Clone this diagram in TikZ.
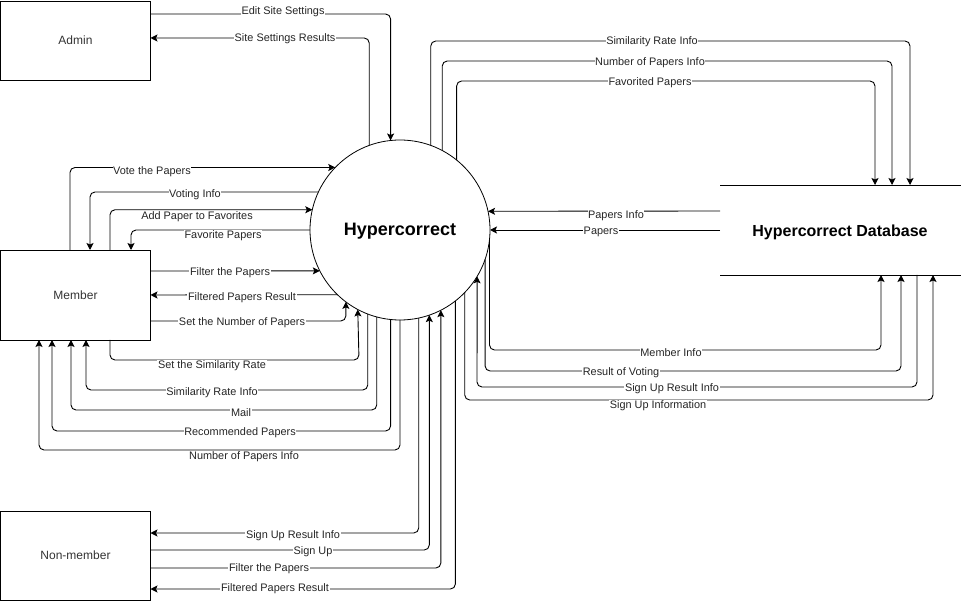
\documentclass[tikz,border=0pt]{standalone}
\usepackage{fontspec}
\setmainfont{Liberation Sans}
\usetikzlibrary{arrows.meta,calc}
\begin{document}
\begin{tikzpicture}[x=1pt,y=-1pt,
  flow/.style={draw=black,line width=0.9pt,rounded corners=5pt},
  arr/.style={flow,-{Stealth[length=7pt,width=7pt,inset=1.5pt]}},
  lbl/.style={fill=white,inner sep=0.6pt,yshift=-1.2pt,font=\fontsize{10.9}{12}\selectfont,text=black!85},
  entity/.style={draw=black,line width=0.9pt,rectangle,minimum width=150pt,inner sep=0,outer sep=0,font=\fontsize{12}{14}\selectfont,text=black!80}
]
\useasboundingbox (0,0) rectangle (961,601);

% nodes
\node[entity,minimum height=79pt] (admin) at (75.5,40.5) {Admin};
\node[entity,minimum height=90pt] (member) at (75.5,295) {Member};
\node[entity,minimum height=89pt] (nonmember) at (75.5,555.5) {Non-member};
\node[draw=black,line width=0.8pt,circle,minimum size=180pt,inner sep=0,outer sep=0] (hc) at (400,230) {};
\node[font=\bfseries\fontsize{18}{20}\selectfont,inner sep=0] (hct) at (400,231.5) {Hypercorrect};
\node[rectangle,minimum width=241pt,minimum height=90pt,inner sep=0,outer sep=0] (db) at (840.5,230) {};
\node[font=\bfseries\fontsize{16}{18}\selectfont,inner sep=0] (dbt) at (840,232) {Hypercorrect Database};
\draw[line width=0.9pt] (db.north west) -- (db.north east);
\draw[line width=0.9pt] (db.south west) -- (db.south east);

% Admin
\draw[arr] (admin.east |- 0,14) -| (hc.96.38);
\draw[arr] (hc.110.15) |- (admin.east |- 0,38);

% Hypercorrect -> DB (top)
\draw[arr] (hc.70.53) |- (910,41) -- (db.north -| 910,0);
\draw[arr] (hc.62.18) |- (892,61) -- (db.north -| 892,0);
\draw[arr] (hc.51.52) |- (875,81) -- (db.north -| 875,0);

% DB -> Hypercorrect
\draw[arr] (db.west |- 0,211) -- (hc.12.19);
\draw[arr] (db.west) -- (hc.east);

% Hypercorrect <-> DB (bottom)
\draw[arr] (hc.-6) |- (881,350) -- (db.south -| 881,0);
\draw[arr] (hc.-19.19) |- (901,371) -- (db.south -| 901,0);
\draw[arr] (db.south -| 917,0) |- (477,387) -- (hc.-31.2);
\draw[arr] (hc.-44.67) |- (933,400) -- (db.south -| 933,0);

% Member top
\draw[arr] (member.north -| 70,0) |- (hc.136.46);
\draw[arr] (hc.155.73) -| (member.north -| 90,0);
\draw[arr] (member.north -| 110,0) |- (hc.167.81);
\draw[arr] (hc.west) -| (member.north -| 131,0);

% Member right
\draw[arr] (member.east |- 0,271) -- (hc.207.1);
\draw[arr] (hc.226.24) -- (member.east |- 0,295);
\draw[arr] (member.east |- 0,321) -| (hc.233.92);

% Member bottom
\draw[arr] (member.south -| 110,0) |- (359,360) -- (hc.242.9);
\draw[arr] (hc.249.85) |- (86,390) -- (member.south -| 86,0);
\draw[arr] (hc.255.85) |- (71,410) -- (member.south -| 71,0);
\draw[arr] (hc.264.26) |- (52,431) -- (member.south -| 52,0);
\draw[arr] (hc.south) |- (39,450) -- (member.south -| 39,0);

% Non-member
\draw[arr] (hc.282.84) |- (nonmember.east |- 0,533);
\draw[arr] (nonmember.east |- 0,550) -| (hc.289.47);
\draw[arr] (nonmember.east |- 0,568) -| (hc.297.82);
\draw[arr] (hc.308.48) |- (nonmember.east |- 0,589);

% labels
\node[lbl] (l1) at (283,10) {Edit Site Settings};
\node[lbl] (l2) at (285,37) {Site Settings Results};
\node[lbl] (l3) at (652,40) {Similarity Rate Info};
\node[lbl] (l4) at (650,61) {Number of Papers Info};
\node[lbl] (l5) at (650,81) {Favorited Papers};
\node[lbl] (l6) at (616,214) {Papers Info};
\node[lbl] (l7) at (601,231) {Papers};
\node[lbl] (l8) at (671,351) {Member Info};
\node[lbl] (l9) at (621,371) {Result of Voting};
\node[lbl] (l10) at (672,387) {Sign Up Result Info};
\node[lbl] (l11) at (658,404) {Sign Up Information};
\node[lbl] (l12) at (152,170) {Vote the Papers};
\node[lbl] (l13) at (195,193) {Voting Info};
\node[lbl] (l14) at (197,215) {Add Paper to Favorites};
\node[lbl] (l15) at (223,234) {Favorite Papers};
\node[lbl] (l16) at (230,271) {Filter the Papers};
\node[lbl] (l17) at (242,296) {Filtered Papers Result};
\node[lbl] (l18) at (242,321) {Set the Number of Papers};
\node[lbl] (l19) at (212,364) {Set the Similarity Rate};
\node[lbl] (l20) at (212,391) {Similarity Rate Info};
\node[lbl] (l21) at (241,411) {Mail};
\node[lbl] (l22) at (240,431) {Recommended Papers};
\node[lbl] (l23) at (244,455) {Number of Papers Info};
\node[lbl] (l24) at (293,534) {Sign Up Result Info};
\node[lbl] (l25) at (313,550) {Sign Up};
\node[lbl] (l26) at (269,567) {Filter the Papers};
\node[lbl] (l27) at (275,587) {Filtered Papers Result};
\end{tikzpicture}
\end{document}
